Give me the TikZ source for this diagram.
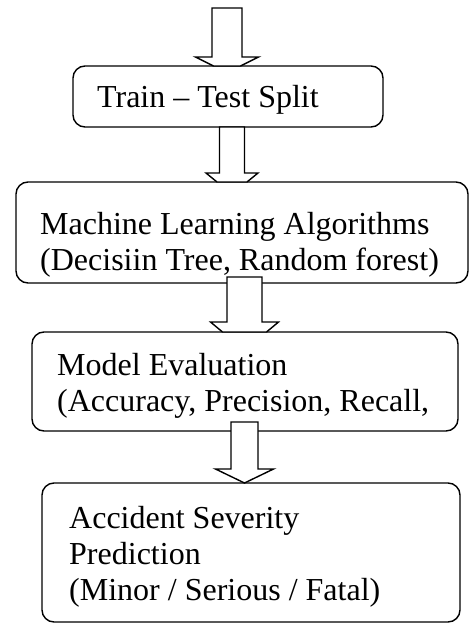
\documentclass[tikz,border=0pt]{standalone}
\usepackage{fontspec}
\setmainfont{Liberation Serif}
\usetikzlibrary{positioning, calc}

\begin{document}
\begin{tikzpicture}[x=1pt, y=1pt, font=\fontsize{32}{36}\selectfont]
  \tikzstyle{stepbox}=[draw, line width=1.4pt, rounded corners=12pt, fill=white, outer sep=0pt, anchor=north west]
  \tikzstyle{steptext}=[inner sep=0pt, align=left]
  \tikzset{fatarrow/.style n args={4}{draw, fill=white, line width=1.4pt, line join=miter,
      to path={let \p1=(\tikztostart), \p2=(\tikztotarget) in
        (\x1-#1,\y1) -- (\x1-#1,\y2+#3) -- (\x1-#2,\y2+#3) -- (\x1-#4,\y2)
        -- (\x1+#4,\y2) -- (\x1+#2,\y2+#3) -- (\x1+#1,\y2+#3) -- (\x1+#1,\y1) -- cycle}}}

  \useasboundingbox (0,0) rectangle (469,-623);

  \node[stepbox, minimum width=310pt, minimum height=61pt] (split) at (73,-66) {};
  \node[stepbox, minimum width=452pt, minimum height=101pt] (algo) at (16,-182) {};
  \node[stepbox, minimum width=426pt, minimum height=99pt] (eval) at (32,-332) {};
  \node[stepbox, minimum width=418pt, minimum height=139pt] (pred) at (42,-483) {};

  \coordinate (in) at (227,-8);

  \draw[fatarrow={15pt}{31.5pt}{9pt}{13.5pt}] (in) to (split.north);
  \draw[fatarrow={12.5pt}{26pt}{9pt}{15pt}] ($(split.south)+(4,0)$) to (algo.north);
  \draw[fatarrow={17.5pt}{34pt}{10pt}{22pt}] ($(algo.south)+(2.5,6)$) to (eval.north);
  \draw[fatarrow={13.5pt}{29pt}{14pt}{0pt}] ($(eval.south)+(-0.5,9)$) to (pred.north);

  \node[steptext, below right=19pt and 24pt of split.north west] (splittxt) {Train \textendash{} Test Split};
  \node[steptext, below right=30pt and 24pt of algo.north west] (algotxt) {Machine Learning Algorithms\\(Decisiin Tree, Random forest)};
  \node[steptext, below right=21pt and 25pt of eval.north west] (evaltxt) {Model Evaluation\\(Accuracy, Precision, Recall,};
  \node[steptext, below right=23pt and 27pt of pred.north west] (predtxt) {Accident Severity\\Prediction\\(Minor / Serious / Fatal)};
\end{tikzpicture}
\end{document}
